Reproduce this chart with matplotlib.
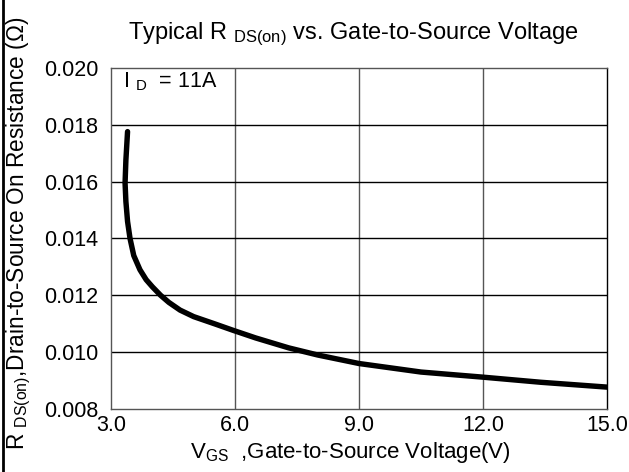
import numpy as np
import matplotlib.pyplot as plt
from matplotlib.lines import Line2D

plt.rcParams['font.family'] = ['Liberation Sans', 'DejaVu Sans']
plt.rcParams['mathtext.fontset'] = 'custom'
plt.rcParams['mathtext.rm'] = 'Liberation Sans'
plt.rcParams['mathtext.it'] = 'Liberation Sans'

# -------- Data --------
vgs = [3.40, 3.36, 3.34, 3.36, 3.40, 3.46, 3.55, 3.70, 3.85, 4.00, 4.20,
       4.40, 4.67, 5.0, 5.5, 5.95, 6.5, 7.3, 8.0, 9.0, 10.5, 12.0, 13.4, 15.0]
rds = [0.01776, 0.01676, 0.01595, 0.0153, 0.0146, 0.0140, 0.0134, 0.0129,
       0.01255, 0.0123, 0.0120, 0.01175, 0.01148, 0.01125, 0.0110, 0.01077,
       0.0105, 0.01015, 0.0099, 0.0096, 0.0093, 0.00912, 0.00894, 0.00877]
xticks = [3.0, 6.0, 9.0, 12.0, 15.0]
yticks = [0.008, 0.010, 0.012, 0.014, 0.016, 0.018, 0.020]

fig = plt.figure(figsize=(6.29, 4.72), dpi=100)
ax = fig.add_axes([0.1765, 0.1335, 0.7885, 0.7225])

ax.plot(vgs, rds, color='black', lw=3.9, solid_capstyle='round',
        solid_joinstyle='round')

ax.set_xlim(3.0, 15.0)
ax.set_ylim(0.008, 0.020)
ax.set_xticks(xticks)
ax.set_yticks(yticks)
ax.set_xticklabels(['%.1f' % v for v in xticks], fontsize=15.5)
ax.set_yticklabels(['%.3f' % v for v in yticks], fontsize=15.5)
ax.tick_params(length=0, pad=9)
ax.tick_params(axis='x', pad=4)

# grid: vertical gray, horizontal black
for v in xticks[1:-1]:
    ax.axvline(v, color='#555555', lw=1.0, zorder=0)
for v in yticks[1:-1]:
    ax.axhline(v, color='black', lw=1.0, zorder=0)
for s in ['left', 'bottom', 'top']:
    ax.spines[s].set_color('#555555')
    ax.spines[s].set_linewidth(1.0)
ax.spines['right'].set_color('black')
ax.spines['right'].set_linewidth(1.0)

ax.text(3.3, 0.0195, r'I $_{\mathrm{D}}$  = 11A', fontsize=15.5, va='center')

fig.text(0.562, 0.928, r'Typical R $_{\mathrm{DS(on)}}$ vs. Gate-to-Source Voltage',
         fontsize=17, ha='center', va='center')
fig.text(0.557, 0.042, r'V$_{\mathrm{GS}}$  ,Gate-to-Source Voltage(V)',
         fontsize=16, ha='center', va='center')
fig.text(0.030, 0.505, r'R $_{\mathrm{DS(on)}}$,Drain-to-Source On Resistance ($\Omega$)',
         fontsize=16.3, ha='center', va='center', rotation=90)

# left frame line of the picture
fig.add_artist(Line2D([0.0045, 0.0045], [0, 1], transform=fig.transFigure,
                      color='black', lw=2))

plt.savefig('out.png', dpi=100)
